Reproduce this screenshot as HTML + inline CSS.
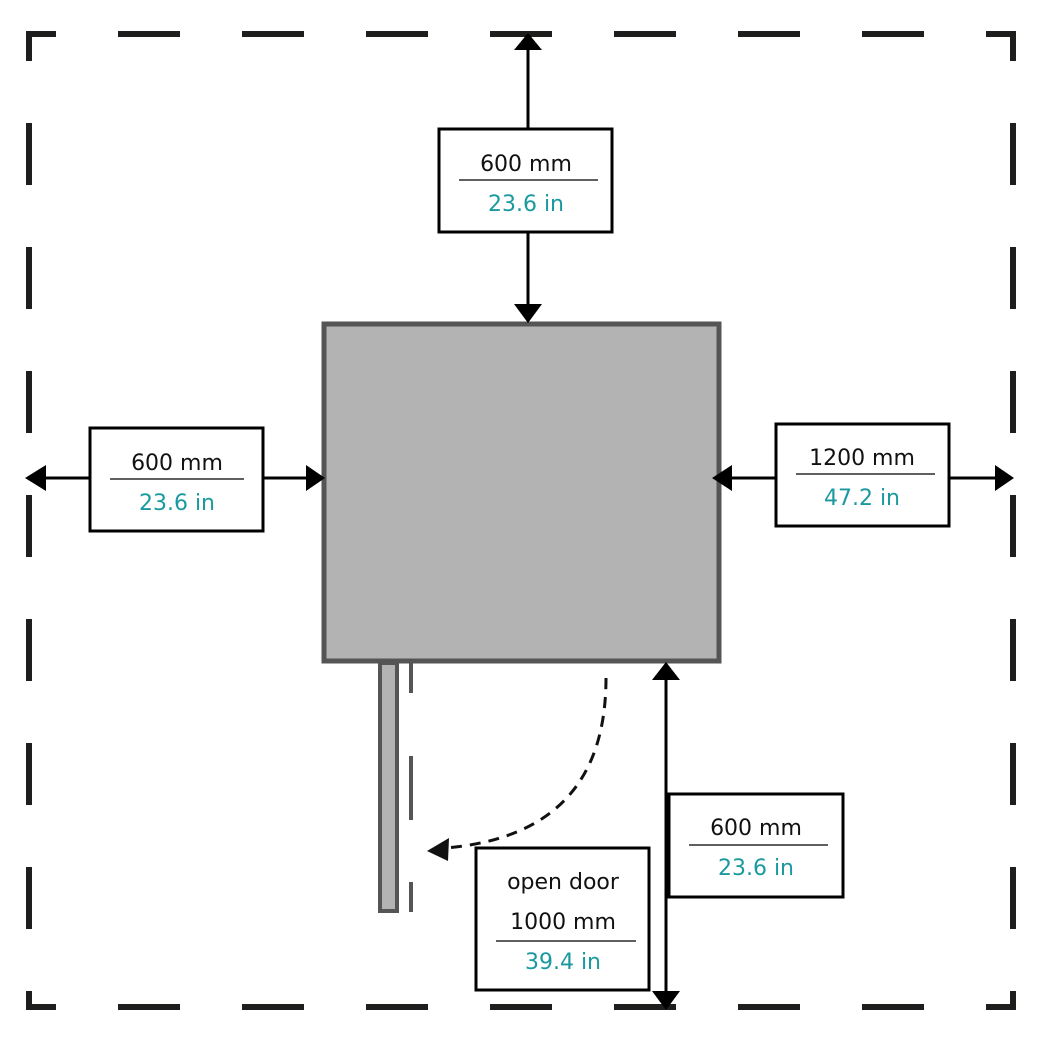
<!DOCTYPE html>
<html><head><meta charset="utf-8"><style>
html,body{margin:0;padding:0;background:#fff}
svg{display:block}
text{font-family:"DejaVu Sans","Liberation Sans",sans-serif;font-size:22px;text-anchor:middle}
.b{fill:#111}.t{fill:#1a9aa0}
</style></head><body>
<svg width="1038" height="1042" viewBox="0 0 1038 1042">
<g stroke="#1e1f1c" stroke-width="6" fill="none" stroke-dasharray="62 62" stroke-dashoffset="32">
<path d="M26 34 H1016"/><path d="M26 1007 H1016"/><path d="M29 31 V1010"/><path d="M1013 31 V1010"/>
</g>
<rect x="324" y="324" width="395" height="337" fill="#b3b3b3" stroke="#555" stroke-width="5"/>
<rect x="380" y="663" width="17" height="248" fill="#b3b3b3" stroke="#555" stroke-width="4"/>
<path d="M411 662 V912" stroke="#555" stroke-width="4" stroke-dasharray="31 63 64 62 30"/>
<path d="M606 678 Q606 835 445 848" fill="none" stroke="#111" stroke-width="3" stroke-dasharray="11 8"/>
<polygon points="427,851 449,838 448,861" fill="#111"/>
<g stroke="#000" stroke-width="3">
<line x1="528" y1="50" x2="528" y2="306"/>
<line x1="44" y1="478" x2="308" y2="478"/>
<line x1="730" y1="478" x2="996" y2="478"/>
<line x1="666" y1="678" x2="666" y2="992"/>
</g>
<g fill="#000">
<polygon points="528,33 514,50 542,50"/><polygon points="528,323 514,304 542,304"/>
<polygon points="25,478 46,465 46,491"/><polygon points="325,478 306,465 306,491"/>
<polygon points="712,478 732,465 732,491"/><polygon points="1014,478 995,465 995,491"/>
<polygon points="666,662 652,680 680,680"/><polygon points="666,1010 652,991 680,991"/>
</g>
<g fill="#fff" stroke="#000" stroke-width="3">
<rect x="439" y="129" width="173" height="103"/>
<rect x="90" y="428" width="173" height="103"/>
<rect x="776" y="424" width="173" height="102"/>
<rect x="669" y="794" width="174" height="103"/>
<rect x="476" y="848" width="173" height="142"/>
</g>
<g stroke="#000" stroke-width="1.2">
<line x1="459" y1="180" x2="598" y2="180"/>
<line x1="110" y1="479" x2="244" y2="479"/>
<line x1="796" y1="474" x2="935" y2="474"/>
<line x1="689" y1="845" x2="828" y2="845"/>
<line x1="496" y1="941" x2="636" y2="941"/>
</g>
<text class="b" x="526" y="171">600 mm</text><text class="t" x="526" y="211">23.6 in</text>
<text class="b" x="177" y="470">600 mm</text><text class="t" x="177" y="510">23.6 in</text>
<text class="b" x="862" y="465">1200 mm</text><text class="t" x="862" y="505">47.2 in</text>
<text class="b" x="756" y="835">600 mm</text><text class="t" x="756" y="875">23.6 in</text>
<text class="b" x="563" y="889">open door</text><text class="b" x="563" y="929">1000 mm</text><text class="t" x="563" y="969">39.4 in</text>
</svg>
</body></html>
